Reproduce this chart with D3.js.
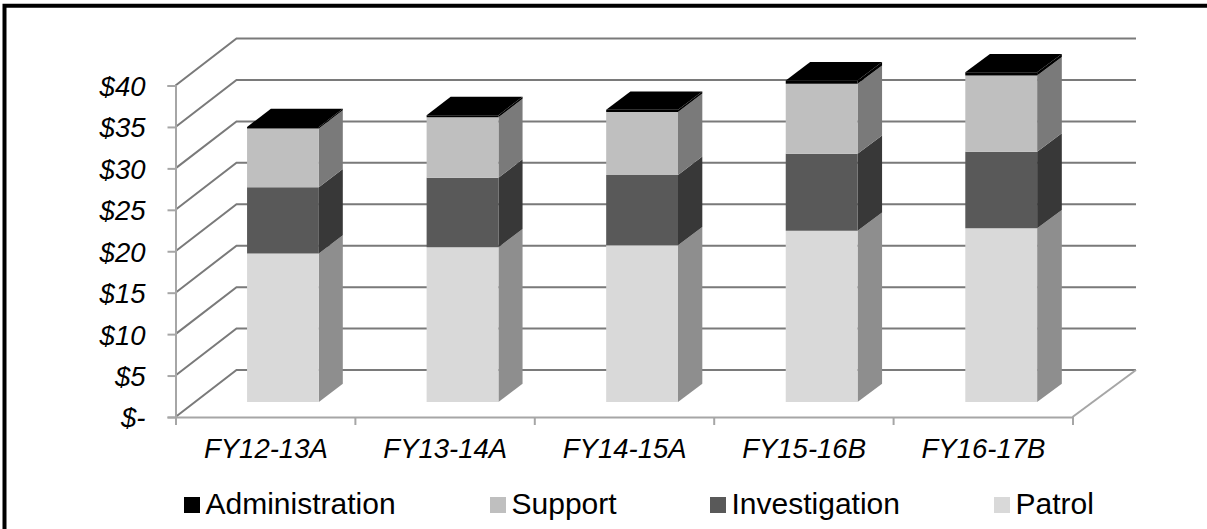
<!DOCTYPE html>
<html lang="en">
<head>
  <meta charset="UTF-8">
  <title>Stacked 3D columns</title>
  <script src="https://d3js.org/d3.v7.min.js"></script>
  <style>
    html, body { margin: 0; padding: 0; background: #fff; }
    svg { display: block; font-family: "Liberation Sans", Arial, sans-serif; }
    .axis path, .axis line { stroke: #a6a6a6; stroke-width: 2; }
    .axis text { font-size: 27.5px; font-style: italic; fill: #000; }
  </style>
</head>
<body>
  <div id="chart"></div>
  <script>
    const categories = ["FY12-13A", "FY13-14A", "FY14-15A", "FY15-16B", "FY16-17B"];
    const seriesNames = ["Patrol", "Investigation", "Support", "Administration"];
    const patrol = [17.9, 18.66, 18.9, 20.65, 20.95];
    const investigation = [8.0, 8.4, 8.5, 9.3, 9.25];
    const support = [7.1, 7.3, 7.6, 8.45, 9.2];
    const administration = [0.18, 0.25, 0.25, 0.4, 0.37];
    const yTicks = [0, 5, 10, 15, 20, 25, 30, 35, 40];
    const legendOrder = ["Administration", "Support", "Investigation", "Patrol"];

    const width = 1207, height = 529;
    const values = [patrol, investigation, support, administration];
    const frontColor = ["#d9d9d9", "#595959", "#bfbfbf", "#000000"];
    const sideColor = ["#8e8e8e", "#383838", "#7a7a7a", "#000000"];

    const svg = d3.select("#chart").append("svg").attr("width", width).attr("height", height);

    // the frame only shows on the top and left, the rest is cropped away
    svg.append("path").attr("d", "M4.5,529V5.7H1207")
       .attr("fill", "none").attr("stroke", "#000").attr("stroke-width", 4);

    const left = 175.5, right = 1072.5;
    const x = d3.scaleBand().domain(categories).range([left, right])
                .paddingInner(0.6).paddingOuter(0.3).align(0.483);
    const xEdge = d3.scaleLinear().domain([0, categories.length]).range([left, right]);
    const y = d3.scaleLinear().domain([0, 40]).range([417, 85.5]);

    // depth runs 0 (front) to 1 (back wall), back wall is a little wider than the front
    const px = (xv, d) => xv + d * (61 + (xv - left) / (right - left) * 2.5);
    const py = (yv, d) => y(yv) - d * 47;
    const line = d3.line();

    const grid = svg.append("g").attr("fill", "none").attr("stroke", "#7a7a7a").attr("stroke-width", 2);
    yTicks.forEach(t => {
      grid.append("path").attr("d", line([
        [px(left, 0), py(t, 0)],
        [px(left, 1), py(t, 1)],
        [px(right, 1), py(t, 1)]
      ]));
    });
    grid.append("path").attr("stroke", "#a6a6a6").attr("d", line([
      [px(right, 0), py(0, 0)],
      [px(right, 1), py(0, 1)]
    ]));

    const yAxis = svg.append("g").attr("class", "axis")
       .attr("transform", `translate(${left},0)`)
       .call(d3.axisLeft(y).tickValues(yTicks).tickSize(8).tickPadding(22)
               .tickFormat(d => d === 0 ? "$-" : "$" + d));
    yAxis.selectAll("text").attr("dy", "0.36em");

    svg.append("g").attr("class", "axis")
       .attr("transform", "translate(0,417)")
       .call(d3.axisBottom(xEdge).tickValues(d3.range(categories.length + 1)).tickSize(8).tickSizeOuter(0).tickFormat(""));

    const xLabels = svg.append("g").attr("class", "axis")
       .attr("transform", "translate(2.5,417)")
       .call(d3.axisBottom(x).tickSize(0).tickPadding(21));
    xLabels.select(".domain").remove();

    const depthFront = 0.32, depthBack = 0.71;
    categories.forEach((c, i) => {
      const g = svg.append("g");
      const x0 = x(c), x1 = x0 + x.bandwidth();
      let base = 0;
      values.forEach((v, s) => {
        const top = base + v[i];
        // side face
        g.append("path").attr("fill", sideColor[s]).attr("d", line([
          [px(x1, depthFront), py(base, depthFront)],
          [px(x1, depthBack), py(base, depthBack)],
          [px(x1, depthBack), py(top, depthBack)],
          [px(x1, depthFront), py(top, depthFront)]
        ]) + "Z");
        // front face
        g.append("path").attr("fill", frontColor[s]).attr("d", line([
          [px(x0, depthFront), py(base, depthFront)],
          [px(x1, depthFront), py(base, depthFront)],
          [px(x1, depthFront), py(top, depthFront)],
          [px(x0, depthFront), py(top, depthFront)]
        ]) + "Z");
        base = top;
      });
      // only the top series shows its top face
      g.append("path").attr("fill", "#000").attr("d", line([
        [px(x0, depthFront), py(base, depthFront)],
        [px(x1, depthFront), py(base, depthFront)],
        [px(x1, depthBack), py(base, depthBack)],
        [px(x0, depthBack), py(base, depthBack)]
      ]) + "Z");
    });

    const legendX = d3.scaleOrdinal().domain(legendOrder).range([184, 490, 710, 994]);
    const legend = svg.append("g").selectAll("g").data(legendOrder).enter().append("g")
       .attr("transform", d => `translate(${legendX(d)},0)`);
    legend.append("rect").attr("y", 497).attr("width", 16).attr("height", 16)
       .attr("fill", d => frontColor[seriesNames.indexOf(d)]);
    legend.append("text").attr("x", 21.5).attr("y", 514).attr("font-size", 30).attr("fill", "#000").text(d => d);
  </script>
</body>
</html>
